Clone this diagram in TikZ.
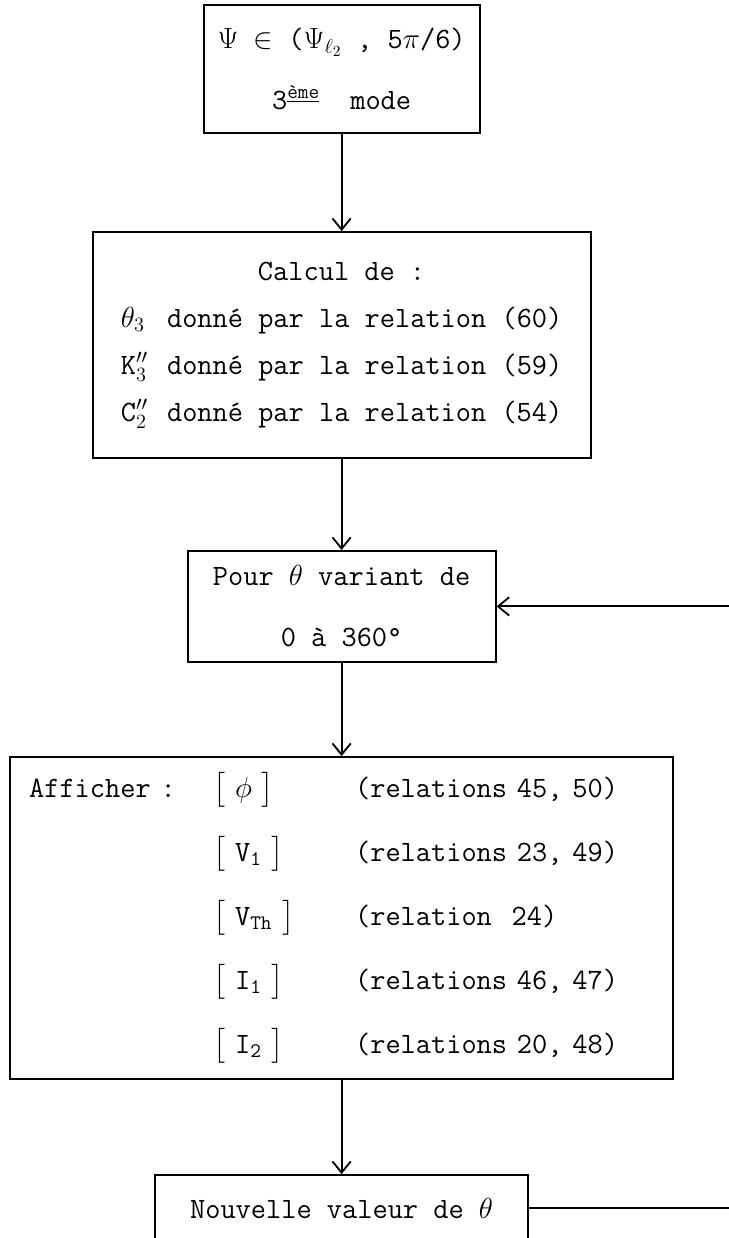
\documentclass[tikz,border=0pt]{standalone}
\usepackage{amsmath}
\usepackage{tikz}
\usetikzlibrary{arrows.meta}

\newcommand{\police}[1]{\ttfamily\fontsize{21}{#1}\selectfont}

\tikzset{
  boite/.style={draw, line width=1.3pt, inner sep=0pt},
  fleche/.style={-{Straight Barb[length=8pt,width=13pt]}, line width=1.3pt}
}

\begin{document}
\begin{tikzpicture}
\useasboundingbox (0,0) rectangle (18.225,-30.95);

\node[boite, font=\police{43}, align=center, minimum width=6.9cm, minimum height=3.2cm] (mode) at (8.54,-1.725)
  {$\Psi$ $\in$ ($\Psi_{\ell_2}$ , 5$\pi$/6)\\3\textsuperscript{\underline{ème}}\ \ mode};
\node[boite, font=\police{33.4}, align=center, minimum width=12.45cm, minimum height=5.65cm] (calcul) at (8.54,-8.625)
  {Calcul de :\\
   \makebox[1.05em][l]{$\theta_3$} donné par la relation (60)\\
   \makebox[1.05em][l]{K$''_3$} donné par la relation (59)\\
   \makebox[1.05em][l]{C$''_2$} donné par la relation (54)};
\node[boite, font=\police{43.4}, align=center, minimum width=7.7cm, minimum height=2.775cm] (pour) at (8.54,-15.16)
  {Pour $\theta$ variant de\\0 à 360°};
\node[boite, font=\police{45.5}, align=left, text width=15.625cm, inner xsep=0.475cm, minimum height=8.05cm] (afficher) at (8.54,-22.95)
  {\makebox[4.6cm][l]{Afficher :}\makebox[3.55cm][l]{$\big[$ $\phi$ $\big]$}(relations 45, 50)\\
   \hspace*{4.6cm}\makebox[3.55cm][l]{$\big[$ V\textsubscript{1} $\big]$}(relations 23, 49)\\
   \hspace*{4.6cm}\makebox[3.55cm][l]{$\big[$ V\textsubscript{Th} $\big]$}(relation\ \ 24)\\
   \hspace*{4.6cm}\makebox[3.55cm][l]{$\big[$ I\textsubscript{1} $\big]$}(relations 46, 47)\\
   \hspace*{4.6cm}\makebox[3.55cm][l]{$\big[$ I\textsubscript{2} $\big]$}(relations 20, 48)};
\node[boite, font=\police{25}, minimum width=9.325cm, minimum height=1.65cm] (nouv) at (8.54,-30.2)
  {Nouvelle valeur de $\theta$};

% boucle sur theta
\coordinate (retour) at (18.7,-20);

\draw[fleche] (mode) -- (calcul);
\draw[fleche] (calcul) -- (pour);
\draw[fleche] (pour) -- (afficher);
\draw[fleche] (afficher) -- (nouv);
\draw[fleche] (nouv.east) -| (retour) |- (pour.east);
\end{tikzpicture}
\end{document}
